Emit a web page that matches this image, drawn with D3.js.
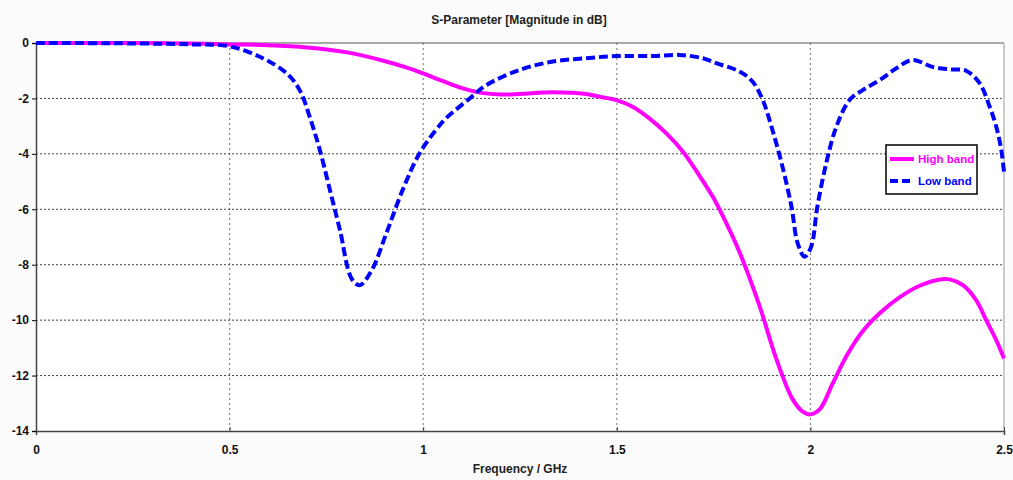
<!DOCTYPE html>
<html>
<head>
<meta charset="utf-8">
<script src="https://cdn.jsdelivr.net/npm/d3@7"></script>
<style>
    body { margin: 0; background: #fbfbfb; font-family: "Liberation Sans", Arial, sans-serif; }
    .axis text { font-weight: bold; font-size: 12px; fill: #111; }
</style>
</head>
<body>
<div id="chart"></div>
<script>
// frequency (GHz) / magnitude (dB)
let highFreq = [0, 0.2, 0.4, 0.5, 0.6, 0.7, 0.8, 0.9, 0.96, 1.0, 1.05, 1.1, 1.15, 1.2, 1.25, 1.335, 1.421, 1.456, 1.499, 1.541, 1.584, 1.628, 1.671, 1.714, 1.748, 1.774, 1.817, 1.869, 1.912, 1.954, 1.98, 2.0, 2.025, 2.057, 2.095, 2.135, 2.179, 2.23, 2.282, 2.334, 2.36, 2.394, 2.428, 2.454, 2.48, 2.5];
let highDb = [0, 0, -0.02, -0.05, -0.08, -0.16, -0.33, -0.65, -0.9, -1.1, -1.37, -1.63, -1.8, -1.86, -1.84, -1.78, -1.84, -1.94, -2.06, -2.3, -2.72, -3.26, -3.92, -4.8, -5.55, -6.25, -7.55, -9.5, -11.4, -12.85, -13.3, -13.4, -13.2, -12.3, -11.25, -10.4, -9.75, -9.18, -8.76, -8.53, -8.53, -8.74, -9.28, -10.0, -10.72, -11.38];

let lowFreq = [0, 0.2, 0.4, 0.5, 0.586, 0.648, 0.681, 0.707, 0.733, 0.759, 0.785, 0.815, 0.836, 0.867, 0.905, 0.947, 0.991, 1.043, 1.06, 1.12, 1.163, 1.249, 1.335, 1.421, 1.499, 1.593, 1.662, 1.722, 1.757, 1.817, 1.851, 1.877, 1.902, 1.928, 1.951, 1.967, 1.985, 2.002, 2.018, 2.041, 2.067, 2.101, 2.135, 2.179, 2.222, 2.264, 2.315, 2.359, 2.402, 2.437, 2.463, 2.48, 2.493, 2.5];
let lowDb = [0, -0.01, -0.05, -0.12, -0.55, -1.1, -1.7, -2.67, -3.86, -5.3, -6.75, -8.5, -8.74, -8.2, -6.86, -5.3, -3.97, -2.96, -2.7, -2.0, -1.52, -0.97, -0.67, -0.55, -0.47, -0.47, -0.43, -0.55, -0.73, -1.03, -1.4, -2.06, -3.14, -4.47, -5.9, -7.22, -7.71, -7.35, -5.9, -4.33, -3.02, -2.06, -1.7, -1.34, -0.91, -0.61, -0.86, -0.95, -1.0, -1.45, -2.3, -3.02, -3.86, -4.65];

let xTicks = [0, 0.5, 1, 1.5, 2, 2.5];
let yTicks = [0, -2, -4, -6, -8, -10, -12, -14];

let seriesNames = ['High band', 'Low band'];
let seriesColors = ['#ff00ff', '#0000ff'];

let margin = {top: 43, right: 9, bottom: 49, left: 36};
let width = 1013 - margin.left - margin.right;
let height = 480 - margin.top - margin.bottom;

let svg = d3.select('#chart').append('svg')
    .attr('width', 1013)
    .attr('height', 480);

let g = svg.append('g')
    .attr('transform', `translate(${margin.left}, ${margin.top})`);

g.append('rect')
    .attr('width', width)
    .attr('height', height)
    .attr('fill', '#ffffff');

let xScale = d3.scaleLinear().domain([0, 2.5]).range([0, width]);
let yScale = d3.scaleLinear().domain([-14, 0]).range([height, 0]);

// grid
g.selectAll('.vgrid')
    .data(xTicks.slice(1, -1))
    .enter().append('line')
    .attr('class', 'vgrid')
    .attr('x1', d => xScale(d)).attr('x2', d => xScale(d))
    .attr('y1', 0).attr('y2', height)
    .attr('stroke', '#888').attr('stroke-width', 1.2)
    .attr('stroke-dasharray', '2,3');

g.selectAll('.hgrid')
    .data(yTicks.slice(1, -1))
    .enter().append('line')
    .attr('class', 'hgrid')
    .attr('x1', 0).attr('x2', width)
    .attr('y1', d => yScale(d)).attr('y2', d => yScale(d))
    .attr('stroke', '#444').attr('stroke-width', 1)
    .attr('stroke-dasharray', '2,2');

// frame
g.append('line').attr('x1', 0).attr('x2', width).attr('y1', 0).attr('y2', 0)
    .attr('stroke', '#555').attr('stroke-width', 1.2);
g.append('line').attr('x1', width).attr('x2', width).attr('y1', 0).attr('y2', height)
    .attr('stroke', '#aaa').attr('stroke-width', 1.2);

let xAxis = d3.axisBottom(xScale).tickValues(xTicks).tickSize(4).tickPadding(10)
    .tickFormat(d => d);
let yAxis = d3.axisLeft(yScale).tickValues(yTicks).tickSize(4).tickPadding(3)
    .tickFormat(d => d);

g.append('g')
    .attr('class', 'axis x-axis')
    .attr('transform', `translate(0, ${height})`)
    .call(xAxis)
    .call(s => s.select('.domain').attr('stroke', '#444').attr('stroke-width', 1.5));

g.append('g')
    .attr('class', 'axis y-axis')
    .call(yAxis)
    .call(s => s.select('.domain').attr('stroke', '#444').attr('stroke-width', 1.5));

g.selectAll('.x-axis .tick line').attr('transform', 'translate(0,-4)').attr('stroke', '#444');

let line = d3.line()
    .x(d => xScale(d[0]))
    .y(d => yScale(d[1]))
    .curve(d3.curveCatmullRom.alpha(0.5));

let highData = highFreq.map((f, i) => [f, highDb[i]]);
let lowData = lowFreq.map((f, i) => [f, lowDb[i]]);

g.append('path')
    .datum(highData)
    .attr('d', line)
    .attr('fill', 'none')
    .attr('stroke', seriesColors[0])
    .attr('stroke-width', 4);

g.append('path')
    .datum(lowData)
    .attr('d', line)
    .attr('fill', 'none')
    .attr('stroke', seriesColors[1])
    .attr('stroke-width', 4)
    .attr('stroke-dasharray', '9,4');

// title and axis label
svg.append('text')
    .attr('x', 519).attr('y', 24)
    .attr('text-anchor', 'middle')
    .attr('font-weight', 'bold').attr('font-size', 12)
    .attr('fill', '#222')
    .text('S-Parameter [Magnitude in dB]');

svg.append('text')
    .attr('x', 520).attr('y', 473)
    .attr('text-anchor', 'middle')
    .attr('font-weight', 'bold').attr('font-size', 12)
    .attr('fill', '#222')
    .text('Frequency / GHz');

// legend
let legend = svg.append('g').attr('transform', 'translate(886, 145)');
legend.append('rect')
    .attr('width', 91).attr('height', 49)
    .attr('fill', '#fff').attr('stroke', '#000').attr('stroke-width', 1.5);

let items = legend.selectAll('.item')
    .data(seriesNames)
    .enter().append('g')
    .attr('class', 'item')
    .attr('transform', (d, i) => `translate(0, ${14 + i * 22})`);

items.append('line')
    .attr('x1', 4).attr('x2', 28)
    .attr('stroke', (d, i) => seriesColors[i])
    .attr('stroke-width', 4)
    .attr('stroke-dasharray', (d, i) => i === 1 ? '8,4' : null);

items.append('text')
    .attr('x', 32).attr('y', 4)
    .attr('font-weight', 'bold').attr('font-size', 11.5)
    .attr('fill', (d, i) => seriesColors[i])
    .text(d => d);
</script>
</body>
</html>
